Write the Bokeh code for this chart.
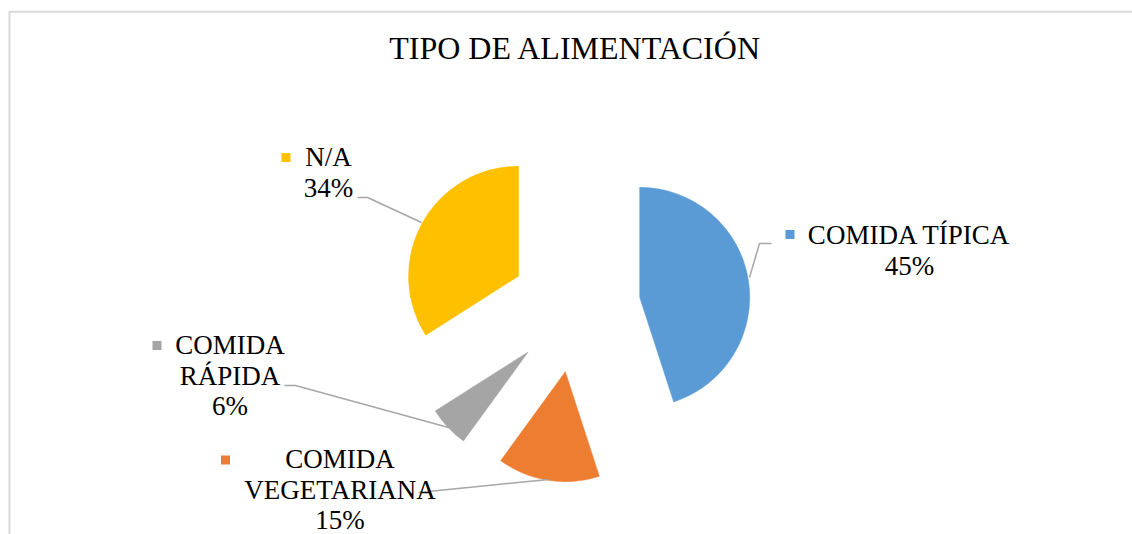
import numpy as np
from bokeh.plotting import figure
from bokeh.models import Range1d
from bokeh.core.properties import value
from bokeh.embed import file_html
from bokeh.resources import INLINE

# ---------------- data ----------------
title = "TIPO DE ALIMENTACIÓN"
categories = ["COMIDA TÍPICA", "COMIDA VEGETARIANA", "COMIDA RÁPIDA", "N/A"]
values = [45, 15, 6, 34]
colors = ["#5B9BD5", "#ED7D31", "#A5A5A5", "#FFC000"]
# how each data label is broken into lines (category part)
label_lines = [["COMIDA TÍPICA"], ["COMIDA", "VEGETARIANA"], ["COMIDA", "RÁPIDA"], ["N/A"]]

# ---------------- layout (page pixel coords) ----------------
W, H = 1132, 534


def X(px):
    return px


def Y(py):
    return H - py


center = (575, 307)
radius = 110
explode = 65

TITLE_SIZE = 32
LABEL_SIZE = 27
BASE_FIX = 0.38  # renderer places alphabetic baseline lower; compensate

# label block: center x, first baseline, key square centre
label_layout = [
    dict(cx=909, base=245, key=(789.5, 234)),
    dict(cx=339.5, base=469, key=(225, 459.5)),
    dict(cx=229.5, base=355, key=(156.5, 345)),
    dict(cx=328, base=167, key=(285.5, 157)),
]
line_h = 30.5
leaders = [
    [(771, 243), (759, 243), (749, 277)],
    [(418, 492), (548, 479)],
    [(284, 385), (295, 385), (448, 427)],
    [(357, 197), (367, 197), (421, 222)],
]

FONT = "Liberation Serif"

p = figure(width=W, height=H, x_range=Range1d(0, W), y_range=Range1d(0, H),
           x_axis_type=None, y_axis_type=None, toolbar_location=None,
           output_backend="svg", min_border=0)
p.outline_line_color = None
p.grid.visible = False
p.background_fill_color = "white"
p.border_fill_color = "white"

# chart area border (top and left visible in window)
p.line([X(9), X(9), W], [0, Y(11.3), Y(11.3)], line_color="#D9D9D9", line_width=2)

# pie slices
vals = np.array(values, dtype=float)
fr = vals / vals.sum()
cum_end = np.cumsum(fr)
cum_start = cum_end - fr
mid = (cum_start + cum_end) / 2
start_ang = np.pi / 2 - 2 * np.pi * cum_end
end_ang = np.pi / 2 - 2 * np.pi * cum_start
mid_ang = np.pi / 2 - 2 * np.pi * mid
cx = X(center[0]) + explode * np.cos(mid_ang)
cy = Y(center[1]) + explode * np.sin(mid_ang)
p.wedge(x=cx, y=cy, radius=radius, start_angle=start_ang, end_angle=end_ang,
        fill_color=colors, line_color=colors, line_width=0.5)

# title
p.text(x=[X(575)], y=[Y(59.5 - BASE_FIX * TITLE_SIZE)], text=[title], text_font=value(FONT),
       text_font_size=value(f"{TITLE_SIZE}px"), text_align="center", text_baseline="alphabetic",
       text_color="#000000")

# leader lines
for pts in leaders:
    p.line([X(a) for a, b in pts], [Y(b) for a, b in pts], line_color="#A6A6A6", line_width=1.5)

# data labels with legend keys
for i, cat in enumerate(categories):
    lay = label_layout[i]
    lines = label_lines[i] + [f"{values[i]}%"]
    xs = [X(lay["cx"])] * len(lines)
    ys = [Y(lay["base"] + k * line_h - BASE_FIX * LABEL_SIZE) for k in range(len(lines))]
    p.text(x=xs, y=ys, text=lines, text_font=value(FONT), text_font_size=value(f"{LABEL_SIZE}px"),
           text_align="center", text_baseline="alphabetic", text_color="#000000")
    kx, ky = lay["key"]
    p.rect(x=[X(kx)], y=[Y(ky)], width=9, height=9, fill_color=colors[i], line_color=None)

open("out.html", "w").write(file_html(p, INLINE))
